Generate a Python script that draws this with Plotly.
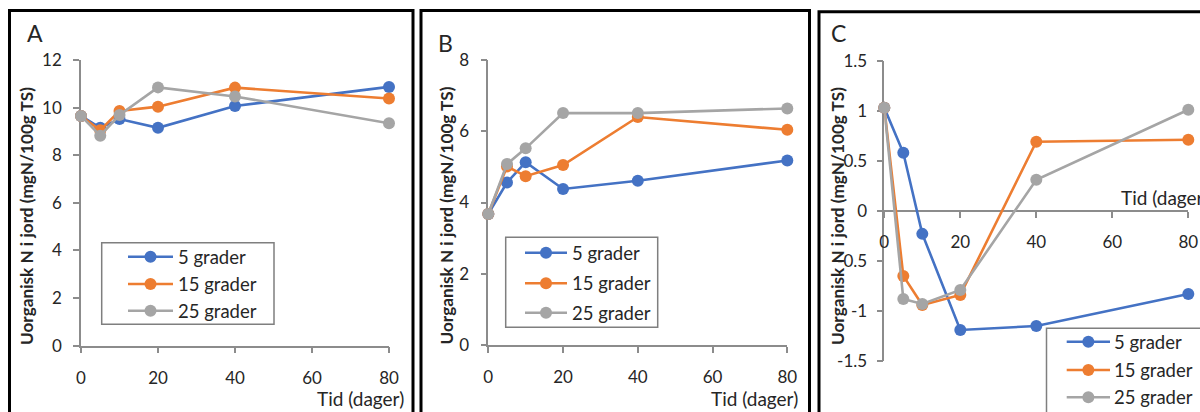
import plotly.graph_objects as go

# ---------------- data ----------------
days = [0, 5, 10, 20, 40, 80]
series_names = ["5 grader", "15 grader", "25 grader"]

# Panel A
a_5 = [9.65, 9.15, 9.52, 9.15, 10.07, 10.87]
a_15 = [9.65, 9.05, 9.86, 10.04, 10.84, 10.38]
a_25 = [9.65, 8.82, 9.69, 10.85, 10.47, 9.34]

# Panel B
b_5 = [3.68, 4.56, 5.13, 4.38, 4.61, 5.18]
b_15 = [3.68, 5.01, 4.74, 5.05, 6.40, 6.04]
b_25 = [3.68, 5.08, 5.52, 6.51, 6.51, 6.64]

# Panel C
c_5 = [1.03, 0.58, -0.23, -1.19, -1.15, -0.83]
c_15 = [1.03, -0.65, -0.94, -0.84, 0.69, 0.71]
c_25 = [1.03, -0.88, -0.93, -0.79, 0.31, 1.01]

x_ticks = [0, 20, 40, 60, 80]
a_yticks = [0, 2, 4, 6, 8, 10, 12]
b_yticks = [0, 2, 4, 6, 8]
c_yticks = [-1.5, -1, -0.5, 0, 0.5, 1, 1.5]
c_yticklabels = ["-1.5", "-1", "-0.5", "0", "0.5", "1", "1.5"]

panel_letters = ["A", "B", "C"]
y_title = "Uorganisk N i jord (mgN/100g TS)"
x_title = "Tid (dager)"

# ---------------- styling ----------------
W, H = 1200, 412
FONT = "Lato"
colors = ["#4472C4", "#ED7D31", "#A5A5A5"]
AXIS_COL = "#8C8C8C"
TXT = "#262626"


def px(x):
    return x / W


def py(y):
    return 1 - y / H


fig = go.Figure()

panels = [
    ("x", "y", [a_5, a_15, a_25]),
    ("x2", "y2", [b_5, b_15, b_25]),
    ("x3", "y3", [c_5, c_15, c_25]),
]

for pi, (xa, ya, vals) in enumerate(panels):
    for si, v in enumerate(vals):
        fig.add_trace(go.Scatter(
            x=days, y=v, xaxis=xa, yaxis=ya,
            mode="lines+markers",
            name=series_names[si],
            line=dict(color=colors[si], width=2.6),
            marker=dict(color=colors[si], size=12),
            cliponaxis=False,
            showlegend=False,
        ))

axis_common = dict(
    showgrid=False, zeroline=False, showline=True, linecolor=AXIS_COL,
    linewidth=1.5, ticks="outside", ticklen=6, tickwidth=1.5,
    tickcolor=AXIS_COL, tickfont=dict(family=FONT, size=17, color=TXT),
    layer="below traces", fixedrange=True,
)

fig.update_layout(
    width=W, height=H,
    margin=dict(l=0, r=0, t=0, b=0, autoexpand=False),
    paper_bgcolor="white", plot_bgcolor="rgba(0,0,0,0)",
    font=dict(family=FONT, color=TXT),
    showlegend=False,
    xaxis=dict(domain=[px(81), px(389)], range=[0, 80], tickvals=x_ticks,
               anchor="y", ticklabelstandoff=10, **axis_common),
    yaxis=dict(domain=[py(345.7), py(60)], range=[0, 12], tickvals=a_yticks,
               anchor="x", ticklabelstandoff=8, **axis_common),
    xaxis2=dict(domain=[px(488.3), px(787.3)], range=[0, 80], tickvals=x_ticks,
                anchor="y2", ticklabelstandoff=10, **axis_common),
    yaxis2=dict(domain=[py(345), py(60)], range=[0, 8], tickvals=b_yticks,
                anchor="x2", ticklabelstandoff=8, **axis_common),
    xaxis3=dict(domain=[px(884.3), px(1188.3)], range=[0, 80], tickvals=x_ticks,
                anchor="free", position=py(210.85), ticklabelstandoff=10,
                **axis_common),
    yaxis3=dict(domain=[py(361), py(60.7)], range=[-1.5, 1.5],
                tickvals=c_yticks, ticktext=c_yticklabels,
                anchor="x3", ticklabelstandoff=6, **axis_common),
)

# ---------------- legends (drawn as boxes + keys + text) ----------------
# (box left, box top, box right, box bottom, line x0, line x1, text x, row ys)
legend_boxes = [
    (101.7, 242.7, 274, 324.3, 128, 173, 176, [256.7, 284, 310.7]),
    (505.7, 237.3, 657.7, 327.3, 525, 567, 570, [252.7, 283.3, 312.7]),
    (1046.5, 328.3, 1230, 440, 1066.7, 1110, 1112, [341.7, 370, 397.3]),
]
for (bx0, by0, bx1, by1, lx0, lx1, tx, rows) in legend_boxes:
    fig.add_shape(type="rect", xref="paper", yref="paper",
                  x0=px(bx0), x1=px(bx1), y0=py(by1), y1=py(by0),
                  line=dict(color="#7F7F7F", width=1.5), fillcolor="white",
                  layer="above")
    for si, ry in enumerate(rows):
        fig.add_shape(type="line", xref="paper", yref="paper",
                      x0=px(lx0), x1=px(lx1), y0=py(ry), y1=py(ry),
                      line=dict(color=colors[si], width=2.6), layer="above")
        cx = (lx0 + lx1) / 2
        r = 6
        fig.add_shape(type="circle", xref="paper", yref="paper",
                      x0=px(cx - r), x1=px(cx + r), y0=py(ry + r), y1=py(ry - r),
                      line=dict(color=colors[si], width=0),
                      fillcolor=colors[si], layer="above")
        fig.add_annotation(text=series_names[si], xref="paper", yref="paper",
                           x=px(tx), y=py(ry), xanchor="left", yanchor="middle",
                           showarrow=False,
                           font=dict(family=FONT, size=18.5, color=TXT))

# frames
frames = [(9.5, 10.5, 413, 430), (421, 10.5, 809.5, 430), (819, 11.7, 1230, 430)]
for (x0, y0, x1, y1) in frames:
    fig.add_shape(type="rect", xref="paper", yref="paper",
                  x0=px(x0), x1=px(x1), y0=py(y1), y1=py(y0),
                  line=dict(color="black", width=3), fillcolor="rgba(0,0,0,0)",
                  layer="above")

# panel letters
letter_pos = [(35, 33), (445, 43), (838, 33)]
for letter, (lx, ly) in zip(panel_letters, letter_pos):
    fig.add_annotation(text=letter, xref="paper", yref="paper",
                       x=px(lx), y=py(ly), xanchor="center", yanchor="middle",
                       showarrow=False, font=dict(family=FONT, size=23, color=TXT))

# y titles
ytitle_pos = [(26, 216), (445.5, 216), (837, 216)]
for (tx, ty) in ytitle_pos:
    fig.add_annotation(text=f"<b>{y_title}</b>", xref="paper", yref="paper",
                       x=px(tx), y=py(ty), xanchor="center", yanchor="middle",
                       textangle=-90, showarrow=False,
                       font=dict(family=FONT, size=17.2, color=TXT))

# x titles
xtitle_pos = [(406, 398, "right"), (800, 398, "right"), (1119, 197, "left")]
for (tx, ty, anc) in xtitle_pos:
    fig.add_annotation(text=x_title, xref="paper", yref="paper", x=px(tx), y=py(ty),
                       xanchor=anc, yanchor="middle", showarrow=False,
                       font=dict(family=FONT, size=19, color=TXT))

fig.write_html("out.html", config={"displayModeBar": False})
